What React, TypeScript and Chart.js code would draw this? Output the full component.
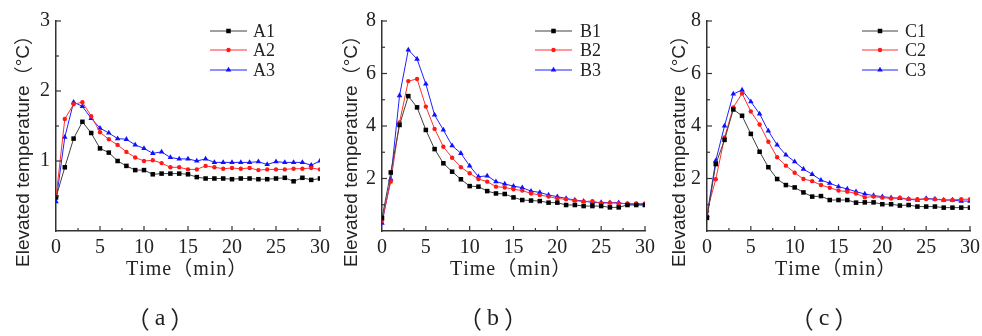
import React, { useEffect, useRef } from 'react';
import { Chart, registerables } from 'chart.js';

Chart.register(...registerables);

const TIME = [0, 1, 2, 3, 4, 5, 6, 7, 8, 9, 10, 11, 12, 13, 14, 15, 16, 17, 18, 19, 20, 21, 22, 23, 24, 25, 26, 27, 28, 29, 30];

const A1 = [0.48, 0.91, 1.32, 1.56, 1.40, 1.18, 1.12, 1.00, 0.93, 0.87, 0.87, 0.81, 0.82, 0.82, 0.82, 0.81, 0.77, 0.75, 0.75, 0.75, 0.74, 0.75, 0.75, 0.74, 0.74, 0.75, 0.76, 0.71, 0.76, 0.73, 0.75];
const A2 = [0.48, 1.60, 1.81, 1.84, 1.64, 1.41, 1.31, 1.23, 1.13, 1.05, 1.00, 1.01, 0.97, 0.91, 0.91, 0.88, 0.88, 0.93, 0.91, 0.89, 0.90, 0.89, 0.90, 0.87, 0.88, 0.88, 0.88, 0.89, 0.89, 0.90, 0.88];
const A3 = [0.42, 1.34, 1.84, 1.78, 1.61, 1.47, 1.40, 1.32, 1.31, 1.23, 1.18, 1.11, 1.13, 1.05, 1.03, 1.03, 1.00, 1.03, 0.98, 0.98, 0.98, 0.98, 0.98, 0.99, 0.95, 0.99, 0.98, 0.98, 0.98, 0.94, 1.00];

const B1 = [0.50, 2.23, 4.04, 5.14, 4.71, 3.85, 3.12, 2.58, 2.26, 1.97, 1.71, 1.69, 1.52, 1.43, 1.41, 1.28, 1.18, 1.16, 1.14, 1.08, 1.08, 0.99, 0.99, 0.95, 0.95, 0.95, 0.90, 0.90, 0.99, 0.99, 0.99];
const B2 = [0.40, 1.88, 4.14, 5.71, 5.79, 4.74, 3.89, 3.21, 2.79, 2.43, 2.20, 1.98, 1.88, 1.69, 1.66, 1.59, 1.54, 1.43, 1.37, 1.31, 1.24, 1.21, 1.16, 1.12, 1.14, 1.05, 1.08, 1.05, 1.05, 1.05, 1.05];
const B3 = [0.30, 1.98, 5.16, 6.90, 6.55, 5.60, 4.42, 3.85, 3.25, 2.96, 2.48, 2.07, 2.10, 1.88, 1.79, 1.71, 1.65, 1.52, 1.47, 1.37, 1.31, 1.24, 1.18, 1.14, 1.09, 1.09, 1.08, 1.08, 1.02, 1.02, 0.99];

const C1 = [0.50, 2.55, 3.47, 4.63, 4.39, 3.70, 3.02, 2.43, 1.98, 1.75, 1.66, 1.47, 1.31, 1.33, 1.18, 1.18, 1.18, 1.08, 1.09, 1.09, 1.02, 1.02, 0.97, 0.99, 0.93, 0.93, 0.93, 0.89, 0.89, 0.89, 0.89];
const C2 = [0.75, 1.97, 3.56, 4.71, 5.24, 4.55, 4.06, 3.40, 2.81, 2.49, 2.22, 1.98, 1.90, 1.75, 1.65, 1.54, 1.50, 1.43, 1.28, 1.31, 1.27, 1.24, 1.27, 1.22, 1.21, 1.22, 1.21, 1.18, 1.18, 1.21, 1.21];
const C3 = [0.60, 2.68, 4.00, 5.22, 5.37, 4.93, 4.46, 3.81, 3.28, 2.90, 2.64, 2.36, 2.16, 1.94, 1.82, 1.69, 1.60, 1.50, 1.41, 1.35, 1.31, 1.27, 1.24, 1.21, 1.18, 1.24, 1.22, 1.18, 1.18, 1.14, 1.14];

const X_MAJOR = [5, 10, 15, 20, 25, 30];
const X_MINOR = [2.5, 7.5, 12.5, 17.5, 22.5, 27.5];

const Y_TITLE = 'Elevated temperature（°C）';
const X_TITLE = 'Time（min）';

const SERIF = '"Liberation Serif"';
const SANS = '"Liberation Sans"';
const CJK = '"Noto Sans CJK SC"';

const STYLES = [
  { color: '#000000', line: '#404040', shape: 'rect', radius: 3.2 },
  { color: '#ff1a1a', line: '#ff3030', shape: 'circle', radius: 2.2 },
  { color: '#1010ff', line: '#2020ff', shape: 'triangle', radius: 3.2 },
];

type Panel = {
  left: number; width: number; plotLeft: number; plotRight: number;
  yMax: number; yStep: number; yMajor: number[]; yMinor: number[];
  names: string[]; series: number[][];
  yTitleX: number; xTitleX: number; legendX0: number; legendX1: number; legendTextX: number;
  caption: string; captionX: number;
};

const H = 336;
const TOP = 21;
const BOTTOM = 231;

const PANELS: Panel[] = [
  { left: 0, width: 330, plotLeft: 56, plotRight: 320, yMax: 3, yStep: 1, yMajor: [1, 2, 3], yMinor: [0.5, 1.5, 2.5],
    names: ['A1', 'A2', 'A3'], series: [A1, A2, A3], yTitleX: 24, xTitleX: 126, legendX0: 210, legendX1: 247, legendTextX: 253,
    caption: '（a）', captionX: 160 },
  { left: 330, width: 330, plotLeft: 52, plotRight: 315, yMax: 8, yStep: 2, yMajor: [2, 4, 6, 8], yMinor: [1, 3, 5, 7],
    names: ['B1', 'B2', 'B3'], series: [B1, B2, B3], yTitleX: 22, xTitleX: 120, legendX0: 205, legendX1: 242, legendTextX: 250,
    caption: '（b）', captionX: 163 },
  { left: 660, width: 322, plotLeft: 47, plotRight: 310, yMax: 8, yStep: 2, yMajor: [2, 4, 6, 8], yMinor: [1, 3, 5, 7],
    names: ['C1', 'C2', 'C3'], series: [C1, C2, C3], yTitleX: 20, xTitleX: 115, legendX0: 202, legendX1: 238, legendTextX: 245,
    caption: '（c）', captionX: 164 },
];

function isWide(ch: string) {
  const c = ch.charCodeAt(0);
  return c >= 0xff00 && c <= 0xffef;
}

// draws text char by char; fullwidth characters use the CJK font
function drawMixed(ctx: CanvasRenderingContext2D, text: string, x: number, y: number, size: number, family: string, align: 'left' | 'center', spacing = 0) {
  const chars = Array.from(text);
  const fontOf = (ch: string) => `${size}px ${isWide(ch) ? CJK : family}`;
  const widths = chars.map((ch) => { ctx.font = fontOf(ch); return ctx.measureText(ch).width; });
  const total = widths.reduce((a, b) => a + b, 0) + spacing * (chars.length - 1);
  let cx = align === 'center' ? x - total / 2 : x;
  ctx.textAlign = 'left';
  chars.forEach((ch, i) => {
    ctx.font = fontOf(ch);
    ctx.fillText(ch, cx, y);
    cx += widths[i] + spacing;
  });
}

function drawMarker(ctx: CanvasRenderingContext2D, shape: string, x: number, y: number, r: number, color: string) {
  ctx.fillStyle = color;
  ctx.beginPath();
  if (shape === 'rect') {
    const s = r * Math.SQRT2 / 2;
    ctx.rect(x - s, y - s, 2 * s, 2 * s);
  } else if (shape === 'circle') {
    ctx.arc(x, y, r, 0, Math.PI * 2);
  } else {
    ctx.moveTo(x, y - r);
    ctx.lineTo(x + r * 0.87, y + r * 0.5);
    ctx.lineTo(x - r * 0.87, y + r * 0.5);
    ctx.closePath();
  }
  ctx.fill();
}

function makeDecor(p: Panel) {
  return {
    id: 'decor',
    afterDraw(chart: any) {
      const ctx: CanvasRenderingContext2D = chart.ctx;
      const { left, bottom } = chart.chartArea;
      const xs = chart.scales.x;
      const ys = chart.scales.y;
      ctx.save();
      ctx.strokeStyle = '#333';
      ctx.lineWidth = 1.2;
      const seg = (x0: number, y0: number, x1: number, y1: number) => {
        ctx.beginPath(); ctx.moveTo(x0, y0); ctx.lineTo(x1, y1); ctx.stroke();
      };
      p.yMajor.forEach((v) => { const y = ys.getPixelForValue(v); seg(left, y, left + 5, y); });
      p.yMinor.forEach((v) => { const y = ys.getPixelForValue(v); seg(left, y, left + 3, y); });
      X_MAJOR.forEach((v) => { const x = xs.getPixelForValue(v); seg(x, bottom, x, bottom - 5); });
      X_MINOR.forEach((v) => { const x = xs.getPixelForValue(v); seg(x, bottom, x, bottom - 3); });

      ctx.fillStyle = '#222';
      ctx.textBaseline = 'middle';

      // y title (rotated, starting at the bottom)
      ctx.save();
      ctx.translate(p.yTitleX, 267);
      ctx.rotate(-Math.PI / 2);
      drawMixed(ctx, Y_TITLE, 0, 0, 19, SANS, 'left');
      ctx.restore();

      // x title
      ctx.textBaseline = 'alphabetic';
      drawMixed(ctx, X_TITLE, p.xTitleX, 275, 20, SERIF, 'left', 1);

      // caption
      ctx.textBaseline = 'middle';
      drawMixed(ctx, p.caption, p.captionX, 319, 24, SERIF, 'center', 5);

      // legend
      const rows = [31, 50, 70];
      p.names.forEach((name, i) => {
        const st = STYLES[i];
        const y = rows[i];
        ctx.strokeStyle = st.line;
        ctx.lineWidth = 1;
        seg(p.legendX0, y, p.legendX1, y);
        drawMarker(ctx, st.shape, (p.legendX0 + p.legendX1) / 2, y, st.radius, st.color);
        ctx.fillStyle = '#222';
        ctx.font = `18px ${SERIF}`;
        ctx.textAlign = 'left';
        ctx.textBaseline = 'middle';
        ctx.fillText(name, p.legendTextX, y + 1);
      });
      ctx.restore();
    },
  };
}

function PanelChart({ p }: { p: Panel }) {
  const ref = useRef<HTMLCanvasElement | null>(null);
  useEffect(() => {
    if (!ref.current) return;
    const datasets = p.series.map((vals, i) => ({
      label: p.names[i],
      data: TIME.map((t, k) => ({ x: t, y: vals[k] })),
      borderColor: STYLES[i].line,
      backgroundColor: STYLES[i].color,
      pointBackgroundColor: STYLES[i].color,
      pointBorderColor: STYLES[i].color,
      pointBorderWidth: 0,
      pointStyle: STYLES[i].shape,
      pointRadius: STYLES[i].radius,
      borderWidth: 1,
      tension: 0,
    }));
    const tickFont = { family: SERIF, size: 20 };
    const chart = new Chart(ref.current, {
      type: 'line',
      data: { datasets },
      options: {
        responsive: false,
        animation: false,
        events: [],
        layout: { padding: { left: 0, top: TOP, right: p.width - p.plotRight, bottom: 0 } },
        plugins: { legend: { display: false }, tooltip: { enabled: false } },
        scales: {
          x: {
            type: 'linear', min: 0, max: 30,
            ticks: { stepSize: 5, font: tickFont, color: '#222', padding: 5, maxRotation: 0, autoSkip: false },
            grid: { display: false, drawTicks: false },
            border: { display: true, color: '#333', width: 1.5 },
            afterFit: (s: any) => { s.height = H - BOTTOM; s.paddingLeft = 0; s.paddingRight = 0; },
          },
          y: {
            type: 'linear', min: 0, max: p.yMax,
            ticks: { stepSize: p.yStep, font: tickFont, color: '#222', padding: 6,
              callback: (v: any) => (v === 0 ? '' : String(v)) },
            grid: { display: false, drawTicks: false },
            border: { display: true, color: '#333', width: 1.5 },
            afterFit: (s: any) => { s.width = p.plotLeft; s.paddingTop = 0; s.paddingBottom = 0; },
          },
        },
      } as any,
      plugins: [makeDecor(p)],
    });
    return () => chart.destroy();
  }, [p]);
  return (
    <canvas ref={ref} width={p.width} height={H}
      style={{ position: 'absolute', left: p.left, top: 0, width: p.width, height: H }} />
  );
}

export default function App() {
  return (
    <div style={{ position: 'fixed', left: 0, top: 0, width: 982, height: H, background: '#fff', overflow: 'hidden' }}>
      {PANELS.map((p) => <PanelChart key={p.caption} p={p} />)}
    </div>
  );
}
